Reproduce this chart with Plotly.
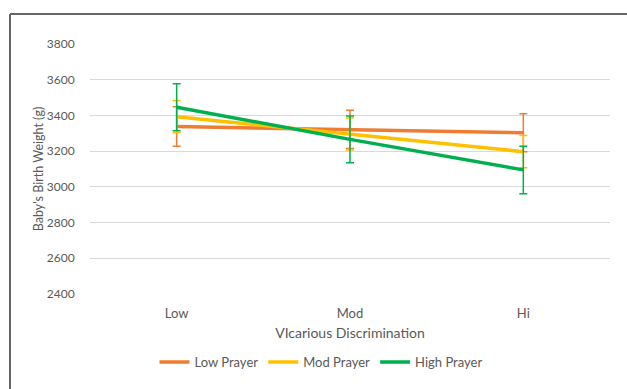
import plotly.graph_objects as go

categories = ["Low", "Mod", "Hi"]
series_names = ["Low Prayer", "Mod Prayer", "High Prayer"]
low_prayer = [3338, 3322, 3303]
mod_prayer = [3393, 3296, 3197]
high_prayer = [3446, 3266, 3095]
low_err = [110, 107, 107]
mod_err = [90, 90, 90]
high_err = [132, 131, 133]
y_ticks = [2400, 2600, 2800, 3000, 3200, 3400, 3600, 3800]

colors = ["#ED7D31", "#FFC000", "#00B050"]
values = [low_prayer, mod_prayer, high_prayer]
errors = [low_err, mod_err, high_err]

FONT = "Lato, Carlito, Calibri, sans-serif"
GREY = "#595959"

fig = go.Figure()
for name, vals, errs, col in zip(series_names, values, errors, colors):
    fig.add_trace(go.Scatter(
        x=categories, y=vals, name=name, mode="lines",
        line=dict(color=col, width=3.5),
        error_y=dict(type="data", array=errs, visible=True,
                     color=col, thickness=1.5, width=4),
    ))

W, H = 627, 389
L, R, T, B = 90, 17, 44, 95
pw, ph = W - L - R, H - T - B

def px_x(px):
    return (px - L) / pw

def px_y(py):
    return (H - B - py) / ph

fig.update_layout(
    width=W, height=H,
    margin=dict(l=L, r=R, t=T, b=B, autoexpand=False),
    paper_bgcolor="white", plot_bgcolor="white",
    font=dict(family=FONT, color=GREY, size=12),
    showlegend=True,
    legend=dict(orientation="h", x=px_x(321), xanchor="center",
                y=px_y(362), yanchor="middle",
                font=dict(size=13, color=GREY), itemwidth=30,
                traceorder="normal"),
    xaxis=dict(range=[-0.5, 2.5], showgrid=False, showline=False,
               zeroline=False, ticks="outside", ticklen=7,
               tickcolor="rgba(0,0,0,0)",
               tickfont=dict(size=13, color=GREY),
               title=dict(text="VIcarious Discrimination",
                          font=dict(size=14, color=GREY), standoff=8)),
    yaxis=dict(range=[2400, 3800], tickvals=y_ticks,
               showgrid=True, gridcolor="#d9d9d9", gridwidth=1,
               zeroline=False, showline=False,
               ticks="outside", ticklen=12, tickcolor="rgba(0,0,0,0)",
               tickfont=dict(size=12, color=GREY),
               title=dict(text="Baby's Birth Weight (g)",
                          font=dict(size=12.5, color=GREY), standoff=0)),
)

fig.add_shape(type="line", xref="paper", yref="paper",
              x0=px_x(10), x1=px_x(640), y0=px_y(14), y1=px_y(14),
              line=dict(color="#666666", width=2))
fig.add_shape(type="line", xref="paper", yref="paper",
              x0=px_x(10), x1=px_x(10), y0=px_y(14), y1=px_y(400),
              line=dict(color="#666666", width=2))

fig.write_html("out.html", config={"displayModeBar": False},
               post_script="document.body.style.margin='0';document.body.style.overflow='hidden';")
